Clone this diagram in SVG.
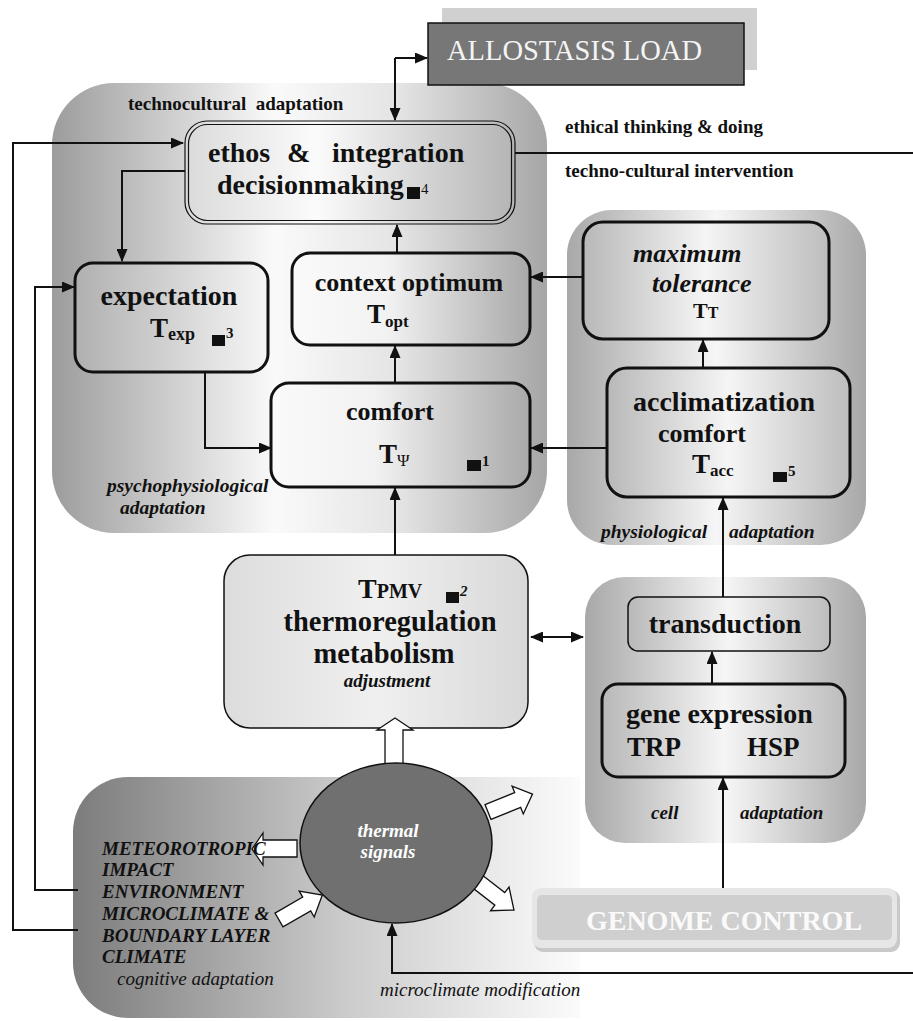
<svg xmlns="http://www.w3.org/2000/svg" width="913" height="1021" viewBox="0 0 913 1021">
<style>
.b{font-family:"Liberation Serif","Times New Roman",serif;font-weight:bold;fill:#111}
.bi{font-family:"Liberation Serif","Times New Roman",serif;font-weight:bold;font-style:italic;fill:#111}
.i{font-family:"Liberation Serif","Times New Roman",serif;font-style:italic;fill:#111}
.r{font-family:"Liberation Serif","Times New Roman",serif;fill:#111}
.ln{fill:none;stroke:#111;stroke-width:2}
.bx{stroke:#111;stroke-width:3}
.bxt{stroke:#111;stroke-width:1.5}
.blk{fill:#fff;stroke:#111;stroke-width:1.3}
.sq{fill:#111}
</style>
<defs>
<marker id="ah" markerUnits="userSpaceOnUse" markerWidth="13" markerHeight="11" refX="12" refY="5.5" orient="auto-start-reverse">
<path d="M0,0 L13,5.5 L0,11 z" fill="#111"/>
</marker>
<linearGradient id="gPsy" x1="0" y1="0" x2="1" y2="0">
<stop offset="0" stop-color="#9c9c9c"/><stop offset="0.45" stop-color="#fafafa"/><stop offset="0.7" stop-color="#e4e4e4"/><stop offset="1" stop-color="#a6a6a6"/>
</linearGradient>
<linearGradient id="gGWG" x1="0" y1="0" x2="1" y2="0">
<stop offset="0" stop-color="#a8a8a8"/><stop offset="0.5" stop-color="#f6f6f6"/><stop offset="1" stop-color="#a8a8a8"/>
</linearGradient>
<linearGradient id="gBot" x1="0" y1="0" x2="1" y2="0">
<stop offset="0" stop-color="#7c7c7c"/><stop offset="0.55" stop-color="#cdcdcd"/><stop offset="1" stop-color="#fbfbfb"/>
</linearGradient>
<linearGradient id="gBoxG" x1="0" y1="0" x2="1" y2="0">
<stop offset="0" stop-color="#b8b8b8"/><stop offset="0.5" stop-color="#f5f5f5"/><stop offset="1" stop-color="#bdbdbd"/>
</linearGradient>
<linearGradient id="gExp" x1="0" y1="0" x2="1" y2="0">
<stop offset="0" stop-color="#b0b0b0"/><stop offset="1" stop-color="#f6f6f6"/>
</linearGradient>
<linearGradient id="gWG" x1="0" y1="0" x2="1" y2="0">
<stop offset="0" stop-color="#fafafa"/><stop offset="0.4" stop-color="#f2f2f2"/><stop offset="1" stop-color="#a9a9a9"/>
</linearGradient>
<linearGradient id="gEth" x1="0" y1="0" x2="1" y2="0">
<stop offset="0" stop-color="#dadada"/><stop offset="0.4" stop-color="#fbfbfb"/><stop offset="1" stop-color="#b4b4b4"/>
</linearGradient>
<linearGradient id="gThr" x1="0" y1="0" x2="1" y2="0">
<stop offset="0" stop-color="#dcdcdc"/><stop offset="0.5" stop-color="#f0f0f0"/><stop offset="1" stop-color="#d8d8d8"/>
</linearGradient>
</defs>

<!-- background groups -->
<g id="grp-psychophysiological">
<rect x="52" y="83" width="495" height="450" rx="62" fill="url(#gPsy)"/>
<text class="b" x="128" y="110" font-size="19" xml:space="preserve">technocultural  adaptation</text>
<text class="bi" x="107" y="492" font-size="19.5">psychophysiological</text>
<text class="bi" x="120" y="514" font-size="19.5">adaptation</text>
</g>
<g id="grp-physiological">
<rect x="567" y="210" width="299" height="335" rx="45" fill="url(#gGWG)"/>
<text class="bi" x="601" y="538" font-size="19.5">physiological</text>
<text class="bi" x="729" y="538" font-size="19.5">adaptation</text>
</g>
<g id="grp-cell">
<rect x="585" y="577" width="281" height="266" rx="40" fill="url(#gGWG)"/>
<text class="bi" x="651" y="819" font-size="19">cell</text>
<text class="bi" x="740" y="819" font-size="19">adaptation</text>
</g>
<g id="grp-cognitive">
<path d="M128,777 H580 V1018 H128 A55,55 0 0 1 73,963 V832 A55,55 0 0 1 128,777 Z" fill="url(#gBot)"/>
</g>

<!-- allostasis -->
<g id="allostasis">
<rect x="442" y="8" width="315" height="62" fill="#d0d0d0"/>
<rect x="428" y="23" width="316" height="62" fill="#777" stroke="#111" stroke-width="1.5"/>
<text x="447" y="60" font-family="Liberation Serif, Times New Roman, serif" font-size="28.5" fill="#f4f4f4">ALLOSTASIS LOAD</text>
</g>

<!-- connectors -->
<g id="connectors">
<path class="ln" d="M395,58 H427" marker-end="url(#ah)"/>
<path class="ln" d="M395,58 V120" marker-end="url(#ah)"/>
<path class="ln" d="M515,153 H913"/>
<path class="ln" d="M13,930 H78 M13,931 V143 H183" marker-end="url(#ah)"/>
<path class="ln" d="M35,890 H78 M35,891 V287 H74" marker-end="url(#ah)"/>
<path class="ln" d="M185,171 H122 V261" marker-end="url(#ah)"/>
<path class="ln" d="M397,253 V225" marker-end="url(#ah)"/>
<path class="ln" d="M395,383 V346" marker-end="url(#ah)"/>
<path class="ln" d="M205,372 V448 H271" marker-end="url(#ah)"/>
<path class="ln" d="M607,448 H531" marker-end="url(#ah)"/>
<path class="ln" d="M583,277 H531" marker-end="url(#ah)"/>
<path class="ln" d="M703,368 V340" marker-end="url(#ah)"/>
<path class="ln" d="M395,555 V488" marker-end="url(#ah)"/>
<path class="ln" d="M531,637 H583" marker-start="url(#ah)" marker-end="url(#ah)"/>
<path class="ln" d="M723,597 V498" marker-end="url(#ah)"/>
<path class="ln" d="M712,684 V652" marker-end="url(#ah)"/>
<path class="ln" d="M723,896 V778" marker-end="url(#ah)"/>
<path class="ln" d="M913,973 H392 V924" marker-end="url(#ah)"/>
<text class="b" x="565" y="133" font-size="19">ethical thinking &amp; doing</text>
<text class="b" x="565" y="177" font-size="19">techno-cultural intervention</text>
<text class="i" x="380" y="996" font-size="19">microclimate modification</text>
</g>

<!-- nodes -->
<g id="ethos">
<rect x="185" y="121" width="330" height="103" rx="22" fill="url(#gEth)" stroke="#111" stroke-width="1.2"/>
<rect x="188.5" y="124.5" width="323" height="96" rx="19" fill="none" stroke="#111" stroke-width="1.2"/>
<text class="b" y="162" font-size="28"><tspan x="208">ethos</tspan><tspan x="287">&amp;</tspan><tspan x="332">integration</tspan></text>
<text class="b" x="217" y="194" font-size="28">decisionmaking</text>
<rect class="sq" x="407" y="187" width="13" height="12"/>
<text class="r" x="421" y="194" font-size="15">4</text>
</g>

<g id="expectation">
<rect class="bx" x="75" y="263" width="193" height="109" rx="18" fill="url(#gExp)"/>
<text class="b" x="169" y="305" font-size="28" text-anchor="middle">expectation</text>
<text class="b" x="150" y="337" font-size="27">T<tspan font-size="18" dy="3">exp</tspan></text>
<rect class="sq" x="212" y="335" width="13" height="11"/>
<text class="b" x="226" y="338" font-size="15">3</text>
</g>

<g id="context-optimum">
<rect class="bx" x="292" y="253" width="238" height="92" rx="18" fill="url(#gWG)"/>
<text class="b" x="409" y="291" font-size="26" text-anchor="middle">context optimum</text>
<text class="b" x="367" y="323" font-size="27">T<tspan font-size="17" dy="4">opt</tspan></text>
</g>

<g id="comfort">
<rect class="bx" x="271" y="383" width="259" height="104" rx="18" fill="url(#gWG)"/>
<text class="b" x="390" y="420" font-size="26" text-anchor="middle">comfort</text>
<text class="b" x="379" y="463" font-size="27">T<tspan class="r" font-weight="normal" font-size="17" dy="3">Ψ</tspan></text>
<rect class="sq" x="467" y="460" width="14" height="11"/>
<text class="b" x="482" y="466" font-size="15">1</text>
</g>

<g id="maximum-tolerance">
<rect class="bx" x="583" y="222" width="246" height="117" rx="20" fill="url(#gBoxG)"/>
<text class="bi" x="633" y="262" font-size="26">maximum</text>
<text class="bi" x="652" y="292" font-size="26">tolerance</text>
<text class="b" x="693" y="318" font-size="22">T<tspan font-size="16">T</tspan></text>
</g>

<g id="acclimatization">
<rect class="bx" x="607" y="368" width="243" height="129" rx="20" fill="url(#gBoxG)"/>
<text class="b" x="724" y="411" font-size="28" text-anchor="middle">acclimatization</text>
<text class="b" x="702" y="442" font-size="26" text-anchor="middle">comfort</text>
<text class="b" x="692" y="473" font-size="27">T<tspan font-size="17" dy="3">acc</tspan></text>
<rect class="sq" x="773" y="472" width="14" height="10"/>
<text class="b" x="788" y="476" font-size="15">5</text>
</g>

<g id="thermoregulation">
<rect class="bxt" x="224" y="555" width="304" height="173" rx="26" fill="url(#gThr)"/>
<text class="b" x="358" y="598" font-size="28">T<tspan font-size="20">PMV</tspan></text>
<rect class="sq" x="446" y="592" width="13" height="11"/>
<text class="bi" x="460" y="596" font-size="15">2</text>
<text class="b" x="390" y="631" font-size="28.5" text-anchor="middle">thermoregulation</text>
<text class="b" x="384" y="663" font-size="28.5" text-anchor="middle">metabolism</text>
<text class="bi" x="387" y="687" font-size="19" text-anchor="middle">adjustment</text>
</g>

<g id="transduction">
<rect class="bxt" x="628" y="597" width="202" height="54" rx="10" fill="url(#gBoxG)"/>
<text class="b" x="725" y="633" font-size="28" text-anchor="middle">transduction</text>
</g>

<g id="gene-expression">
<rect class="bx" x="602" y="684" width="243" height="93" rx="16" fill="url(#gBoxG)"/>
<text class="b" x="626" y="723" font-size="28">gene expression</text>
<text class="b" x="627" y="756" font-size="27">TRP</text>
<text class="b" x="747" y="756" font-size="27">HSP</text>
</g>

<g id="genome-control">
<rect x="534" y="890" width="366" height="62" rx="9" fill="#c9c9c9"/>
<rect x="532" y="888" width="365" height="60" rx="9" fill="#e6e6e6"/>
<rect x="537" y="895" width="355" height="45" rx="5" fill="#cfcfcf"/>
<text class="b" x="724" y="930" font-size="28" text-anchor="middle" style="fill:#fafafa">GENOME CONTROL</text>
</g>

<g id="thermal-signals">
<polygon class="blk" points="385,765 385,730 377,730 395,718 413,730 403,730 403,765"/>
<polygon class="blk" points="297,840 263,840 263,833 252,849 263,865 263,857 297,857"/>
<polygon class="blk" transform="translate(488,812) rotate(-22)" points="0,-8 32,-8 32,-15 48,0 32,15 32,8 0,8"/>
<polygon class="blk" transform="translate(473,878) rotate(38)" points="0,-8 34,-8 34,-15 52,0 34,15 34,8 0,8"/>
<ellipse cx="396" cy="843" rx="96" ry="80" fill="#707070" stroke="#111" stroke-width="1.5"/>
<polygon class="blk" transform="translate(279,920) rotate(-30)" points="0,-8 32,-8 32,-15 50,0 32,15 32,8 0,8"/>
<text class="bi" x="388" y="837" font-size="19" text-anchor="middle" style="fill:#fff">thermal</text>
<text class="bi" x="388" y="858" font-size="19" text-anchor="middle" style="fill:#fff">signals</text>
</g>

<g id="grp-cognitive-labels">
<text class="bi" x="102" y="855" font-size="19">METEOROTROPIC</text>
<text class="bi" x="102" y="876" font-size="19">IMPACT</text>
<text class="bi" x="102" y="898" font-size="19">ENVIRONMENT</text>
<text class="bi" x="102" y="920" font-size="19">MICROCLIMATE &amp;</text>
<text class="bi" x="102" y="942" font-size="19">BOUNDARY LAYER</text>
<text class="bi" x="102" y="963" font-size="19">CLIMATE</text>
<text class="i" x="117" y="985" font-size="19">cognitive adaptation</text>
</g>
</svg>
